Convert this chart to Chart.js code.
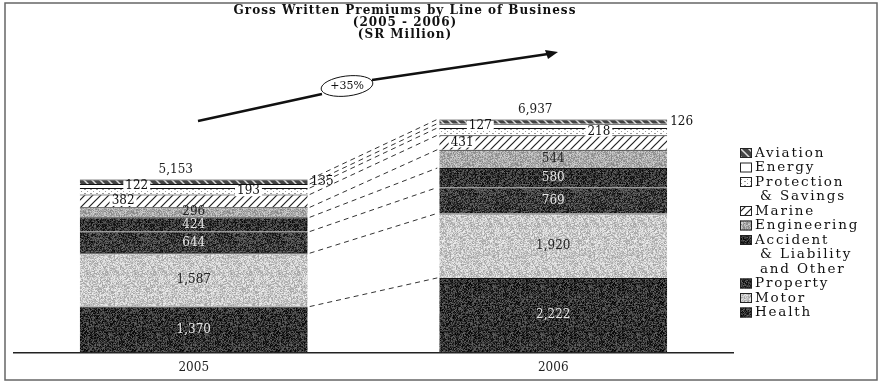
<!DOCTYPE html>
<html lang="en">
<head>
<meta charset="UTF-8">
<title>Gross Written Premiums by Line of Business</title>
<script src="https://cdn.jsdelivr.net/npm/chart.js"></script>
<style>
    html, body { margin: 0; padding: 0; background: #fff; }
    .wrap { width: 879px; height: 382px; position: relative; }
</style>
</head>
<body>
<div class="wrap"><canvas id="gwp" width="879" height="382"></canvas></div>
<script>
// --- data (SR million) ---
const years = ['2005', '2006'];
const health = [1370, 2222];
const motor = [1587, 1920];
const property = [644, 769];
const accident = [424, 580];
const engineering = [296, 544];
const marine = [382, 431];
const protection = [193, 218];
const energy = [122, 127];
const aviation = [135, 126];
const totals = [5153, 6937];
const growthLabel = '+35%';
const titleLines = ['Gross Written Premiums by Line of Business', '(2005 - 2006)', '(SR Million)'];
// legend text, bottom of stack first
const lineNames = [['Health'], ['Motor'], ['Property'], ['Accident', '& Liability', 'and Other'],
    ['Engineering'], ['Marine'], ['Protection', '& Savings'], ['Energy'], ['Aviation']];

const SERIF = '"DejaVu Serif", "Liberation Serif", serif';

// --- fill textures ---
function noise(n) {
    n = Math.imul(n ^ (n >>> 15), 0x2c1b3c6d);
    n = Math.imul(n ^ (n >>> 12), 0x297a2d39);
    n ^= n >>> 15;
    return (n >>> 0) / 4294967296;
}
const patCtx = document.createElement('canvas').getContext('2d');

function grain(base, spread, seed) {
    const c = document.createElement('canvas');
    c.width = c.height = 48;
    const g = c.getContext('2d');
    const img = g.createImageData(48, 48);
    for (let i = 0; i < 48 * 48; i++) {
        const v = Math.max(0, Math.min(255, base + (noise(i * 7 + seed * 9973) - 0.5) * spread));
        img.data[i * 4] = img.data[i * 4 + 1] = img.data[i * 4 + 2] = v;
        img.data[i * 4 + 3] = 255;
    }
    g.putImageData(img, 0, 0);
    return patCtx.createPattern(c, 'repeat');
}

function hatch(bg, fg, dir, lw) {
    const c = document.createElement('canvas');
    c.width = c.height = 8;
    const g = c.getContext('2d');
    g.fillStyle = bg;
    g.fillRect(0, 0, 8, 8);
    g.strokeStyle = fg;
    g.lineWidth = lw;
    g.beginPath();
    for (let k = -8; k <= 16; k += 8) {
        if (dir > 0) { g.moveTo(k - 4, 12); g.lineTo(k + 12, -4); }
        else { g.moveTo(k - 4, -4); g.lineTo(k + 12, 12); }
    }
    g.stroke();
    return patCtx.createPattern(c, 'repeat');
}

function dotted() {
    const c = document.createElement('canvas');
    c.width = 6; c.height = 4;
    const g = c.getContext('2d');
    g.fillStyle = '#fff';
    g.fillRect(0, 0, 6, 4);
    g.fillStyle = '#9a9a9a';
    g.fillRect(0, 1, 2, 1);
    g.fillRect(3, 3, 1, 1);
    return patCtx.createPattern(c, 'repeat');
}

// style per segment (same order as the stack)
const segStyle = [
    { fill: grain(50, 100, 1), text: '#e6e6e6', at: [0.5, 0.5] },
    { fill: grain(200, 80, 2), text: '#222', at: [0.5, 0.5] },
    { fill: grain(58, 100, 3), text: '#e6e6e6', at: [0.5, 0.5] },
    { fill: grain(52, 100, 4), text: '#e6e6e6', at: [0.5, 0.5] },
    { fill: grain(170, 80, 5), text: '#222', at: [0.5, 0.5] },
    { fill: hatch('#fff', '#222', 1, 1.2), text: '#111', at: [0.19, 0.1], box: true },
    { fill: dotted(), text: '#111', at: [0.74, 0.7], box: true },
    { fill: '#fff', text: '#111', at: [0.25, 0.18], box: true },
    { fill: hatch('#444', '#ddd', -1, 1.5), text: '#111', outside: true }
];
const series = [health, motor, property, accident, engineering, marine, protection, energy, aviation];

const fmt = v => v.toLocaleString('en-US');

// --- decorations: frame, title, labels, connectors, arrow, legend ---
const decor = {
    id: 'decor',
    afterDatasetsDraw(chart) {
        const ctx = chart.ctx;
        const yScale = chart.scales.y;
        const bars = i => chart.getDatasetMeta(i).data;
        ctx.save();

        // dashed connectors between segment tops
        ctx.strokeStyle = '#333';
        ctx.lineWidth = 1;
        ctx.setLineDash([5, 4]);
        const cum = [0, 0];
        series.forEach((s, i) => {
            cum[0] += s[0]; cum[1] += s[1];
            const b0 = bars(i)[0], b1 = bars(i)[1];
            ctx.beginPath();
            ctx.moveTo(b0.x + b0.width / 2 + 2, yScale.getPixelForValue(cum[0]));
            ctx.lineTo(b1.x - b1.width / 2 - 2, yScale.getPixelForValue(cum[1]));
            ctx.stroke();
        });
        ctx.setLineDash([]);

        // segment values
        ctx.font = '12px ' + SERIF;
        ctx.textBaseline = 'middle';
        ctx.textAlign = 'center';
        series.forEach((s, i) => {
            const st = segStyle[i];
            bars(i).forEach((bar, j) => {
                const txt = fmt(s[j]);
                const yMid = (bar.y + bar.base) / 2;
                if (st.outside) {
                    ctx.textAlign = 'left';
                    ctx.fillStyle = st.text;
                    ctx.fillText(txt, bar.x + bar.width / 2 + 3, yMid);
                    ctx.textAlign = 'center';
                    return;
                }
                const x = bar.x - bar.width / 2 + st.at[j] * bar.width;
                if (st.box) {
                    const w = ctx.measureText(txt).width + 4;
                    ctx.fillStyle = '#fff';
                    ctx.fillRect(x - w / 2, yMid - 5, w, 10);
                }
                ctx.fillStyle = st.text;
                ctx.fillText(txt, x, yMid);
            });
        });

        // totals above the bars
        ctx.fillStyle = '#222';
        ctx.textBaseline = 'alphabetic';
        bars(series.length - 1).forEach((bar, j) => {
            ctx.fillText(fmt(totals[j]), bar.x - 18, bar.y - 6);
        });

        // growth arrow
        const pts = [[198, 121], [322, 94]];
        const pts2 = [[372, 80], [548, 54]];
        ctx.strokeStyle = '#111';
        ctx.lineWidth = 2.5;
        ctx.beginPath();
        ctx.moveTo(...pts[0]); ctx.lineTo(...pts[1]);
        ctx.moveTo(...pts2[0]); ctx.lineTo(...pts2[1]);
        ctx.stroke();
        ctx.fillStyle = '#111';
        ctx.beginPath();
        ctx.moveTo(558, 52);
        ctx.lineTo(545, 50);
        ctx.lineTo(548, 59);
        ctx.closePath();
        ctx.fill();
        ctx.lineWidth = 1;
        ctx.beginPath();
        ctx.ellipse(347, 86, 26, 10, -0.12, 0, Math.PI * 2);
        ctx.fillStyle = '#fff';
        ctx.fill();
        ctx.stroke();
        ctx.fillStyle = '#111';
        ctx.textAlign = 'center';
        ctx.textBaseline = 'middle';
        ctx.font = '11px ' + SERIF;
        ctx.fillText(growthLabel, 347, 86);

        // title
        ctx.font = 'bold 12px ' + SERIF;
        ctx.letterSpacing = '1px';
        titleLines.forEach((t, k) => ctx.fillText(t, 405, 11 + k * 12));

        // legend, top of the stack first
        ctx.font = '13.5px ' + SERIF;
        ctx.letterSpacing = '1.8px';
        ctx.textAlign = 'left';
        let ly = 153;
        for (let i = series.length - 1; i >= 0; i--) {
            ctx.fillStyle = segStyle[i].fill;
            ctx.fillRect(740, ly - 5, 12, 10);
            ctx.strokeStyle = '#222';
            ctx.lineWidth = 1;
            ctx.strokeRect(740.5, ly - 4.5, 11, 9);
            ctx.fillStyle = '#111';
            lineNames[i].forEach((t, k) => {
                ctx.fillText(t, k === 0 ? 755 : 760, ly);
                ly += 14.5;
            });
        }
        ctx.letterSpacing = '0px';

        // outer frame
        ctx.strokeStyle = '#666';
        ctx.lineWidth = 1.5;
        ctx.strokeRect(5, 3, 872, 377);
        ctx.restore();
    }
};

new Chart(document.getElementById('gwp'), {
    type: 'bar',
    data: {
        labels: years,
        datasets: series.map((s, i) => ({
            label: lineNames[i].join(' '),
            data: s,
            backgroundColor: segStyle[i].fill,
            borderColor: '#111',
            borderWidth: { top: 1, left: 0, right: 0, bottom: 0 },
            borderSkipped: false,
            categoryPercentage: 1,
            barPercentage: 0.634
        }))
    },
    options: {
        responsive: false,
        animation: false,
        layout: { padding: { left: 14, right: 146, top: 40, bottom: 7 } },
        plugins: {
            legend: { display: false },
            title: { display: false },
            tooltip: { enabled: false }
        },
        scales: {
            x: {
                stacked: true,
                grid: { display: false },
                border: { display: true, color: '#222', width: 1.5 },
                ticks: { color: '#222', font: { family: SERIF, size: 12 }, padding: 0 }
            },
            y: { stacked: true, display: false, min: 0, max: 9300 }
        }
    },
    plugins: [decor]
});
</script>
</body>
</html>
